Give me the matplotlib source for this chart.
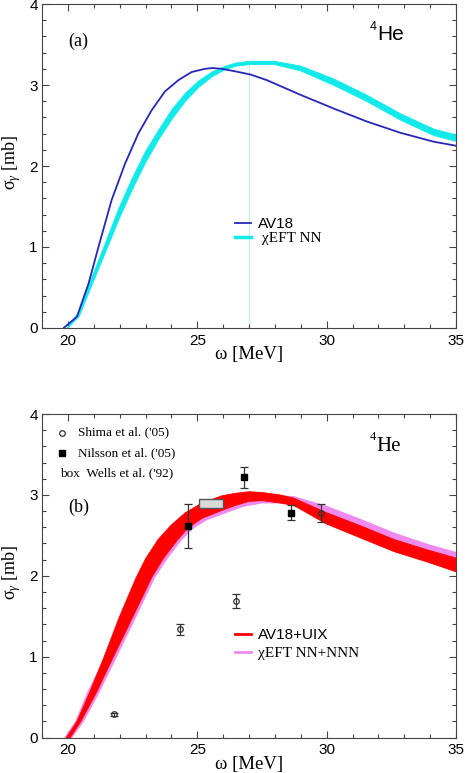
import numpy as np
import matplotlib
matplotlib.use("Agg")
import matplotlib.pyplot as plt
from matplotlib.ticker import MultipleLocator
from matplotlib.patches import Rectangle
from matplotlib.lines import Line2D

plt.rcParams['mathtext.fontset'] = 'custom'
plt.rcParams['mathtext.rm'] = 'Liberation Serif'
plt.rcParams['mathtext.it'] = 'Liberation Serif:italic'
plt.rcParams['mathtext.bf'] = 'Liberation Serif:bold'

SANS = ['Liberation Sans', 'DejaVu Sans']
SERIF = ['Liberation Serif', 'DejaVu Serif']

# ---------------- panel (a) data ----------------
av18_x = [19.84, 20.35, 20.80, 21.19, 21.69, 22.21, 22.72, 23.24, 23.75, 24.27, 24.78,
          25.30, 25.60, 25.94, 26.45, 27.05, 27.69, 28.98, 30.27, 31.55, 32.85, 34.14, 35.0]
av18_y = [0.00, 0.14, 0.55, 1.01, 1.58, 2.03, 2.40, 2.69, 2.92, 3.06, 3.16,
          3.20, 3.21, 3.20, 3.17, 3.13, 3.06, 2.88, 2.71, 2.55, 2.41, 2.30, 2.25]

eft_x = [19.97, 20.42, 20.93, 21.45, 21.96, 22.48, 22.99, 23.51, 24.02, 24.54, 25.05,
         25.57, 26.09, 26.50, 27.05, 27.95, 28.98, 30.27, 31.55, 32.85, 34.14, 35.0]
eft_lo = [0.00, 0.15, 0.55, 0.95, 1.35, 1.72, 2.05, 2.34, 2.59, 2.81, 2.98,
          3.11, 3.20, 3.24, 3.26, 3.26, 3.18, 3.00, 2.80, 2.57, 2.38, 2.31]
eft_hi = [0.01, 0.21, 0.65, 1.07, 1.49, 1.86, 2.19, 2.46, 2.71, 2.91, 3.06,
          3.17, 3.24, 3.28, 3.30, 3.30, 3.24, 3.08, 2.88, 2.65, 2.46, 2.39]
eft_vline_x = 27.0
eft_vline_top = 3.28

# ---------------- panel (b) data ----------------
uix_up_x = [19.94, 20.35, 20.83, 21.40, 22.00, 22.64, 23.00, 23.49, 24.00, 24.54, 25.18,
            25.96, 26.47, 27.0, 27.5, 28.2, 28.73, 30.0, 31.3, 32.6, 33.9, 35.0]
uix_up_y = [0.00, 0.20, 0.55, 1.00, 1.50, 1.98, 2.21, 2.45, 2.63, 2.78, 2.90,
            2.99, 3.02, 3.04, 3.03, 3.00, 2.96, 2.78, 2.62, 2.45, 2.32, 2.22]
uix_lo_x = [20.09, 20.50, 21.09, 21.76, 22.52, 23.24, 23.70, 24.20, 24.64, 25.18, 25.96,
            26.47, 27.0, 27.5, 28.2, 28.73, 30.0, 31.3, 32.6, 33.9, 35.0]
uix_lo_y = [0.00, 0.20, 0.55, 1.00, 1.50, 1.98, 2.22, 2.43, 2.59, 2.71, 2.81,
            2.87, 2.92, 2.93, 2.90, 2.87, 2.64, 2.47, 2.30, 2.17, 2.05]

nnn_up_x = [19.88, 20.30, 20.75, 21.45, 22.05, 22.70, 23.10, 23.60, 24.20, 24.80, 25.40,
            26.10, 26.80, 27.50, 28.20, 28.73, 30.0, 31.3, 32.6, 33.9, 35.0]
nnn_up_y = [0.00, 0.20, 0.55, 1.00, 1.50, 1.98, 2.20, 2.42, 2.62, 2.75, 2.84,
            2.92, 2.97, 2.99, 2.99, 2.98, 2.86, 2.70, 2.53, 2.39, 2.29]
nnn_lo_x = [20.15, 20.60, 21.19, 21.88, 22.64, 23.35, 23.85, 24.35, 24.80, 25.35, 26.10,
            26.80, 27.50, 28.20, 28.73, 30.0, 31.3, 32.6, 33.9, 35.0]
nnn_lo_y = [0.00, 0.20, 0.55, 1.00, 1.50, 1.98, 2.22, 2.43, 2.58, 2.69, 2.78,
            2.86, 2.90, 2.90, 2.88, 2.74, 2.58, 2.42, 2.29, 2.20]

shima_x = [21.80, 24.32, 26.50, 29.78]
shima_y = [0.29, 1.34, 1.69, 2.78]
shima_err = [0.02, 0.07, 0.09, 0.11]

nilsson_x = [24.64, 26.79, 28.63]
nilsson_y = [2.62, 3.22, 2.78]
nilsson_err = [0.27, 0.13, 0.09]

wells_x = [25.05, 25.99]
wells_y = [2.84, 2.95]

xticks = [20, 25, 30, 35]
yticks = [0, 1, 2, 3, 4]

# ---------------- figure ----------------
fig = plt.figure(figsize=(4.69, 7.73), dpi=100)
ax1 = fig.add_axes([0.0896, 0.5757, 0.8827, 0.4191])
ax2 = fig.add_axes([0.0896, 0.0457, 0.8827, 0.4187])

SPINE = '#444444'

def style(ax):
    ax.set_xlim(19, 35)
    ax.set_ylim(0, 4)
    ax.set_xticks(xticks)
    ax.set_yticks(yticks)
    ax.xaxis.set_minor_locator(MultipleLocator(1))
    ax.yaxis.set_minor_locator(MultipleLocator(0.2))
    ax.tick_params(which='both', direction='in', top=True, right=True,
                   color=SPINE, width=0.8)
    ax.tick_params(which='major', length=5)
    ax.tick_params(which='minor', length=3)
    ax.tick_params(axis='x', pad=4)
    ax.tick_params(axis='y', pad=3)
    for lab in ax.get_xticklabels() + ax.get_yticklabels():
        lab.set_fontfamily(SANS)
        lab.set_fontsize(11)
    for s in ax.spines.values():
        s.set_color(SPINE)
        s.set_linewidth(0.8)
    ax.set_xlabel('ω [MeV]', fontfamily=SERIF, fontsize=13.5)
    ax.set_ylabel(r'σ$_{\gamma}$ [mb]', fontfamily=SERIF, fontsize=13)
    ax.xaxis.set_label_coords(0.5, -0.057)
    ax.yaxis.set_label_coords(-0.047, 0.51)

# ---- panel (a)
style(ax1)
ax1.vlines(eft_vline_x, 0, eft_vline_top, color='#a8f4f4', lw=0.6, zorder=1)
ax1.fill_between(eft_x, eft_lo, eft_hi, color='#12eaea', lw=0.6, zorder=2)
ax1.plot(av18_x, av18_y, color='#2626b8', lw=1.3, zorder=3)

h1 = [Line2D([], [], color='#2626b8', lw=1.3),
      Line2D([], [], color='#12eaea', lw=2.5)]
leg1 = ax1.legend(h1, ['AV18', ' χEFT NN'], loc='center left',
                  bbox_to_anchor=(0.466, 0.299), frameon=False, borderpad=0,
                  borderaxespad=0, handlelength=1.05, handletextpad=0.45,
                  labelspacing=0.05, fontsize=11)
leg1.get_texts()[0].set_fontfamily(SANS)
leg1.get_texts()[1].set_fontfamily(SERIF)

ax1.text(0.064, 0.885, '(a)', transform=ax1.transAxes, fontfamily=SERIF,
         fontsize=13, ha='left', va='center')
ax1.text(0.7925, 0.928, '4', transform=ax1.transAxes, fontfamily=SANS,
         fontsize=9, ha='left', va='center')
ax1.text(0.8105, 0.905, 'He', transform=ax1.transAxes, fontfamily=SANS,
         fontsize=15, ha='left', va='center')

# ---- panel (b)
style(ax2)
ax2.fill(np.concatenate([nnn_up_x, nnn_lo_x[::-1]]),
         np.concatenate([nnn_up_y, nnn_lo_y[::-1]]),
         color='#ee8aee', lw=0.6, zorder=2)
ax2.fill(np.concatenate([uix_up_x, uix_lo_x[::-1]]),
         np.concatenate([uix_up_y, uix_lo_y[::-1]]),
         color='#ff0000', lw=0.6, zorder=3)

ax2.add_patch(Rectangle((wells_x[0], wells_y[0]), wells_x[1] - wells_x[0],
                        wells_y[1] - wells_y[0], facecolor='#d9d9d9',
                        edgecolor='#555555', lw=1.0, zorder=4))
ax2.errorbar(shima_x, shima_y, yerr=shima_err, fmt='o', mfc='none', mec='#333333',
             mew=0.9, ms=4, ecolor='#333333', elinewidth=0.9, capsize=2.6,
             capthick=0.9, zorder=5)
ax2.errorbar(nilsson_x, nilsson_y, yerr=nilsson_err, fmt='s', mfc='black', mec='black',
             ms=3.8, ecolor='#333333', elinewidth=0.9, capsize=2.6,
             capthick=0.9, zorder=5)

# data key (upper left)
ax2.plot([0.048], [0.9425], 'o', transform=ax2.transAxes, mfc='none', mec='#333333',
         mew=0.9, ms=4)
ax2.plot([0.048], [0.880], 's', transform=ax2.transAxes, color='black', ms=3.8)
ax2.text(0.087, 0.9425, "Shima et al. ('05)", transform=ax2.transAxes,
         fontfamily=SERIF, fontsize=9.5, ha='left', va='center')
ax2.text(0.087, 0.880, "Nilsson et al. ('05)", transform=ax2.transAxes,
         fontfamily=SERIF, fontsize=9.5, ha='left', va='center')
ax2.text(0.044, 0.8175, "box  Wells et al. ('92)", transform=ax2.transAxes,
         fontfamily=SERIF, fontsize=9.5, ha='left', va='center')

h2 = [Line2D([], [], color='#ff0000', lw=2.0),
      Line2D([], [], color='#ee8aee', lw=2.0)]
leg2 = ax2.legend(h2, ['AV18+UIX', 'χEFT NN+NNN'], loc='center left',
                  bbox_to_anchor=(0.466, 0.289), frameon=False, borderpad=0,
                  borderaxespad=0, handlelength=1.05, handletextpad=0.45,
                  labelspacing=0.3, fontsize=11)
leg2.get_texts()[0].set_fontfamily(SANS)
leg2.get_texts()[1].set_fontfamily(SERIF)

ax2.text(0.064, 0.712, '(b)', transform=ax2.transAxes, fontfamily=SERIF,
         fontsize=13, ha='left', va='center')
ax2.text(0.7925, 0.93, '4', transform=ax2.transAxes, fontfamily=SERIF,
         fontsize=9, ha='left', va='center')
ax2.text(0.808, 0.90, 'He', transform=ax2.transAxes, fontfamily=SERIF,
         fontsize=15, ha='left', va='center')

fig.savefig('out.png', dpi=100)
